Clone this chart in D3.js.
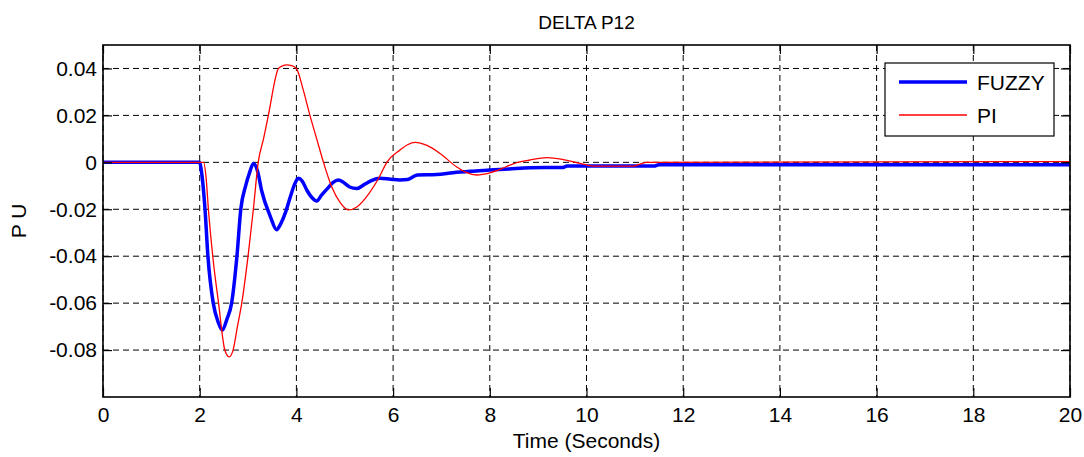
<!DOCTYPE html>
<html>
<head>
<meta charset="utf-8">
<script src="https://cdn.jsdelivr.net/npm/d3@7"></script>
<style>
  body { margin: 0; background: #fff; }
  text { font-family: "Liberation Sans", Arial, sans-serif; fill: #000; }
</style>
</head>
<body>
<div id="vis_container"></div>
<script>
// Time samples (seconds) and per-unit values.
var fuzzy_t = [0, 2.0, 2.03, 2.11, 2.17, 2.28, 2.38, 2.47, 2.56, 2.66, 2.77, 2.85, 2.95, 3.03, 3.11, 3.2, 3.28,
  3.46, 3.59, 3.68, 3.78, 3.87, 3.96, 4.04, 4.12, 4.22, 4.32, 4.42, 4.52, 4.65, 4.76, 4.87, 4.97,
  5.1, 5.25, 5.4, 5.55, 5.73, 5.95, 6.14, 6.3, 6.5, 6.9, 7.24, 7.6, 8.0, 8.4, 8.83, 9.5, 9.6, 11.4, 11.5, 20];
var fuzzy_v = [0, 0, -0.003, -0.02, -0.04, -0.06, -0.068, -0.0715, -0.067, -0.06, -0.04, -0.02, -0.01, -0.0045, -0.0005, -0.004, -0.012,
  -0.023, -0.0287, -0.026, -0.021, -0.015, -0.0095, -0.0068, -0.008, -0.012, -0.015, -0.0165, -0.014, -0.011, -0.0085, -0.0075, -0.0085,
  -0.0105, -0.0112, -0.0095, -0.0078, -0.0068, -0.0072, -0.0075, -0.0073, -0.0054, -0.0052, -0.0044, -0.0038, -0.0033, -0.0028, -0.0023, -0.0022, -0.0016, -0.0016, -0.001, -0.001];

var pi_t = [0, 2.08, 2.13, 2.18, 2.27, 2.39, 2.52, 2.61, 2.69, 2.78, 2.87, 3.0, 3.11, 3.21, 3.32, 3.42, 3.63, 3.72, 3.8, 3.9, 4.0,
  4.14, 4.28, 4.42, 4.56, 4.73, 4.9, 5.07, 5.25, 5.45, 5.7, 5.87, 6.14, 6.3, 6.45, 6.7, 6.97, 7.31, 7.5, 7.73, 8.0, 8.21, 8.5,
  8.83, 9.18, 9.5, 9.87, 10.14, 10.97, 11.24, 20];
var pi_v = [0, 0, -0.006, -0.02, -0.04, -0.06, -0.08, -0.0829, -0.08, -0.07, -0.06, -0.04, -0.02, 0, 0.01, 0.02, 0.04, 0.0412, 0.0415, 0.0412, 0.04,
  0.031, 0.02, 0.01, 0, -0.0104, -0.017, -0.0203, -0.019, -0.0147, -0.0068, 0, 0.0052, 0.0075, 0.0085, 0.0072, 0.0038, -0.0019, -0.0042, -0.0054, -0.0045, -0.003, -0.0005,
  0.001, 0.002, 0.0013, -0.0004, -0.0016, -0.0016, 0, 0.0003];

var series_names = ["FUZZY", "PI"];
var x_ticks = [0, 2, 4, 6, 8, 10, 12, 14, 16, 18, 20];
var y_ticks = [-0.08, -0.06, -0.04, -0.02, 0, 0.02, 0.04];
var y_tick_labels = ["-0.08", "-0.06", "-0.04", "-0.02", "0", "0.02", "0.04"];

var width = 1084, height = 457;
var plot_left = 103, plot_right = 1070, plot_top = 45, plot_bottom = 397;

var x = d3.scaleLinear().domain([0, 20]).range([plot_left, plot_right]);
var y = d3.scaleLinear().domain([-0.1, 0.05]).range([plot_bottom, plot_top]);

var svg = d3.select("#vis_container").append("svg")
  .attr("width", width)
  .attr("height", height);

// dashed grid
svg.append("g").selectAll("line").data(x_ticks).enter().append("line")
  .attr("x1", function(d) { return x(d); }).attr("x2", function(d) { return x(d); })
  .attr("y1", plot_top).attr("y2", plot_bottom)
  .style("stroke", "#000").style("stroke-width", 1).style("stroke-dasharray", "6,4");
svg.append("g").selectAll("line").data(y_ticks).enter().append("line")
  .attr("x1", plot_left).attr("x2", plot_right)
  .attr("y1", function(d) { return y(d); }).attr("y2", function(d) { return y(d); })
  .style("stroke", "#000").style("stroke-width", 1).style("stroke-dasharray", "6,4");

// lines
var fuzzy = fuzzy_t.map(function(t, i) { return [t, fuzzy_v[i]]; });
var pi = pi_t.map(function(t, i) { return [t, pi_v[i]]; });
var line = d3.line()
  .x(function(d) { return x(d[0]); })
  .y(function(d) { return y(d[1]); })
  .curve(d3.curveMonotoneX);

svg.append("path").datum(fuzzy).attr("d", line)
  .style("fill", "none").style("stroke", "#0000ff").style("stroke-width", 3.5);
svg.append("path").datum(pi).attr("d", line)
  .style("fill", "none").style("stroke", "#ff0000").style("stroke-width", 1.3);

// axes, MATLAB style with inward ticks on all four sides
var tick = 9;
svg.append("g").attr("transform", "translate(0," + plot_bottom + ")")
  .call(d3.axisBottom(x).tickValues(x_ticks).tickSize(-tick).tickPadding(10).tickFormat(d3.format("d")));
svg.append("g").attr("transform", "translate(0," + plot_top + ")")
  .call(d3.axisTop(x).tickValues(x_ticks).tickSize(-tick).tickFormat(""));
svg.append("g").attr("transform", "translate(" + plot_left + ",0)")
  .call(d3.axisLeft(y).tickValues(y_ticks).tickSize(-tick).tickPadding(6)
    .tickFormat(function(d, i) { return y_tick_labels[i]; }));
svg.append("g").attr("transform", "translate(" + plot_right + ",0)")
  .call(d3.axisRight(y).tickValues(y_ticks).tickSize(-tick).tickFormat(""));

svg.selectAll(".domain").remove();
svg.selectAll(".tick line").style("stroke", "#000").style("stroke-width", 1.2);
svg.selectAll(".tick text").style("font-size", "21px").style("font-family", "Liberation Sans, Arial, sans-serif");

svg.append("rect")
  .attr("x", plot_left).attr("y", plot_top)
  .attr("width", plot_right - plot_left).attr("height", plot_bottom - plot_top)
  .style("fill", "none").style("stroke", "#000").style("stroke-width", 1.6);

// labels
svg.append("text").attr("x", (plot_left + plot_right) / 2).attr("y", 29)
  .style("text-anchor", "middle").style("font-size", "19px").text("DELTA P12");
svg.append("text").attr("x", (plot_left + plot_right) / 2).attr("y", 448)
  .style("text-anchor", "middle").style("font-size", "21px").text("Time (Seconds)");
svg.append("text")
  .attr("transform", "translate(26," + ((plot_top + plot_bottom) / 2) + ") rotate(-90)")
  .style("text-anchor", "middle").style("font-size", "21px").text("P U");

// legend
var lg = svg.append("g").attr("transform", "translate(885,63)");
lg.append("rect").attr("width", 169).attr("height", 73)
  .style("fill", "#fff").style("stroke", "#000").style("stroke-width", 1.2);
var colors = ["#0000ff", "#ff0000"];
var widths = [3.5, 1.3];
series_names.forEach(function(name, i) {
  var yy = 19 + i * 33;
  lg.append("line").attr("x1", 14).attr("x2", 82).attr("y1", yy).attr("y2", yy)
    .style("stroke", colors[i]).style("stroke-width", widths[i]);
  lg.append("text").attr("x", 92).attr("y", yy + 8).style("font-size", "21px").text(name);
});
</script>
</body>
</html>
